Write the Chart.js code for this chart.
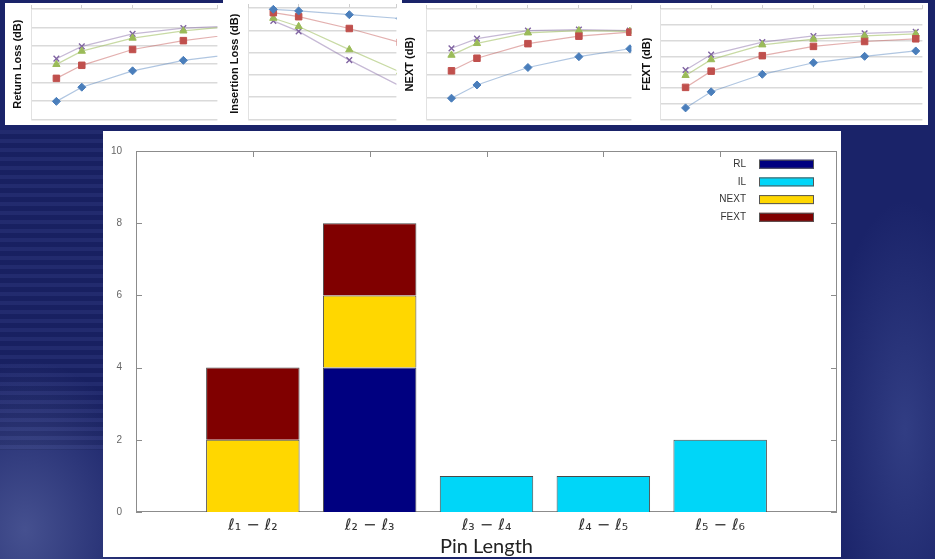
<!DOCTYPE html>
<html>
<head>
<meta charset="utf-8">
<script src="https://cdn.jsdelivr.net/npm/chart.js@4/dist/chart.umd.min.js"></script>
<style>
  html, body { margin: 0; padding: 0; }
  body {
    width: 935px; height: 559px; overflow: hidden; position: relative;
    background:
      radial-gradient(ellipse 130px 170px at 25px 530px, rgba(150,165,215,0.35), rgba(150,165,215,0) 100%),
      radial-gradient(ellipse 80px 230px at 905px 430px, rgba(110,130,200,0.28), rgba(110,130,200,0) 100%),
      #1a2369;
  }
  .streaks {
    position: absolute; left: 0; top: 130px; width: 103px; height: 320px;
    background: repeating-linear-gradient(180deg, rgba(255,255,255,0.035) 0 4px, rgba(0,0,0,0.08) 4px 9px);
  }
  .panel { position: absolute; background: #fff; }
  canvas { display: block; }
</style>
</head>
<body>
<div class="streaks"></div>
<div class="panel" style="left:5px;top:3px;width:218px;height:122px"><canvas id="rlChart" width="218" height="122"></canvas></div>
<div class="panel" style="left:223px;top:0px;width:179px;height:125px"><canvas id="ilChart" width="179" height="125"></canvas></div>
<div class="panel" style="left:402px;top:3px;width:235px;height:122px"><canvas id="nextChart" width="235" height="122"></canvas></div>
<div class="panel" style="left:633px;top:3px;width:295px;height:122px"><canvas id="fextChart" width="295" height="122"></canvas></div>
<div class="panel" style="left:103px;top:131px;width:738px;height:426px"><canvas id="pinChart" width="738" height="426"></canvas></div>

<script>
// small S-parameter plots (x = pin length step)
const pinSteps = [0.5, 1, 2, 3, 4, 5];

const rlBlue   = [0.98, 1.75, 2.64, 3.21, 3.55];
const rlRed    = [2.23, 2.94, 3.80, 4.28, 4.63];
const rlGreen  = [2.99, 3.71, 4.42, 4.81, 5.07];
const rlPurple = [3.30, 3.97, 4.65, 4.96, 5.08];

const ilBlue   = [-0.06, -0.13, -0.30, -0.47];
const ilRed    = [-0.21, -0.39, -0.92, -1.54];
const ilGreen  = [-0.46, -0.83, -1.87, -2.87];
const ilPurple = [-0.58, -1.05, -2.34, -3.50];

const nxBlue   = [0.96, 1.56, 2.35, 2.84, 3.20];
const nxRed    = [2.20, 2.77, 3.43, 3.77, 3.95];
const nxGreen  = [2.91, 3.44, 3.92, 4.02, 3.99];
const nxPurple = [3.22, 3.66, 4.02, 4.07, 4.02];

const fxBlue   = [0.73, 1.75, 2.86, 3.59, 4.00, 4.34];
const fxRed    = [2.03, 3.06, 4.04, 4.63, 4.94, 5.11];
const fxGreen  = [2.79, 3.79, 4.73, 5.09, 5.29, 5.42];
const fxPurple = [3.13, 4.11, 4.90, 5.29, 5.46, 5.56];

// main bar chart
const pinLabels  = ['ℓ₁ − ℓ₂', 'ℓ₂ − ℓ₃', 'ℓ₃ − ℓ₄', 'ℓ₄ − ℓ₅', 'ℓ₅ − ℓ₆'];
const rlCount    = [0, 4, 0, 0, 0];
const ilCount    = [0, 0, 1, 1, 2];
const nextCount  = [2, 2, 0, 0, 0];
const fextCount  = [2, 2, 0, 0, 0];
const countTicks = [0, 2, 4, 6, 8, 10];

const seriesLook = [
    { line: 'rgba(79,129,189,0.45)',  point: '#4a7ebb', style: 'rectRot',  r: 4 },
    { line: 'rgba(192,80,77,0.45)',   point: '#c0504d', style: 'rect',     r: 4.6 },
    { line: 'rgba(155,187,89,0.55)',  point: '#9bbb59', style: 'triangle', r: 4.2 },
    { line: 'rgba(128,100,162,0.45)', point: '#8064a2', style: 'crossRot', r: 4 }
];

function makePanel(id, title, series, yMin, yMax, xMax, axisW, titlePad, padTop, padBottom) {
    new Chart(document.getElementById(id), {
        type: 'line',
        data: {
            datasets: series.map((vals, k) => ({
                data: vals.map((v, i) => ({ x: pinSteps[i], y: v })),
                borderColor: seriesLook[k].line,
                borderWidth: 1.2,
                pointStyle: seriesLook[k].style,
                pointRadius: seriesLook[k].r,
                pointBackgroundColor: seriesLook[k].point,
                pointBorderColor: seriesLook[k].point,
                pointBorderWidth: k === 3 ? 1.4 : 1,
                clip: { left: 0, top: false, right: 0, bottom: 0 }
            }))
        },
        options: {
            responsive: false,
            animation: false,
            layout: { padding: { top: padTop, bottom: padBottom, left: 0, right: 0 } },
            plugins: { legend: { display: false }, tooltip: { enabled: false } },
            scales: {
                x: {
                    type: 'linear', position: 'top', min: 0, max: xMax,
                    ticks: { display: false, stepSize: 1 },
                    grid: { drawOnChartArea: false, tickLength: 4, color: '#cfcfcf' },
                    border: { display: false },
                    afterFit: s => { s.height = 4; }
                },
                y: {
                    min: yMin, max: yMax,
                    ticks: { display: false, stepSize: 1 },
                    grid: { color: '#dadada', lineWidth: 1.5, drawTicks: false },
                    border: { color: '#e2e2e2' },
                    title: {
                        display: true, text: title, color: '#111',
                        font: { family: '"Liberation Sans", Arial, sans-serif', size: 11, weight: 'bold' },
                        padding: { top: titlePad, bottom: 0 }
                    },
                    afterFit: s => { s.width = axisW; }
                }
            }
        }
    });
}

makePanel('rlChart',   'Return Loss (dB)',    [rlBlue, rlRed, rlGreen, rlPurple], 0, 6, 3.67, 26, 6.4, 2, 4);
makePanel('ilChart',   'Insertion Loss (dB)', [ilBlue, ilRed, ilGreen, ilPurple], -5, 0, 2.93, 25, 5.4, 4, 5);
makePanel('nextChart', 'NEXT (dB)',           [nxBlue, nxRed, nxGreen, nxPurple], 0, 5, 4.03, 24, 1.4, 2, 4);
makePanel('fextChart', 'FEXT (dB)',           [fxBlue, fxRed, fxGreen, fxPurple], 0, 7, 5.13, 27, 7.4, 2, 4);

// frame with inward ticks, like the original plot
const framePlugin = {
    id: 'frame',
    beforeDatasetsDraw(chart) {
        const { ctx, chartArea: a, scales: { x, y } } = chart;
        ctx.save();
        ctx.strokeStyle = '#8c8c8c';
        ctx.lineWidth = 1;
        ctx.strokeRect(a.left + 0.5, a.top + 0.5, a.width - 1, a.height - 1);
        ctx.beginPath();
        countTicks.forEach(v => {
            const py = Math.round(y.getPixelForValue(v)) + 0.5;
            ctx.moveTo(a.left, py); ctx.lineTo(a.left + 6, py);
            ctx.moveTo(a.right, py); ctx.lineTo(a.right - 6, py);
        });
        pinLabels.forEach((_, i) => {
            const px = Math.round(x.getPixelForValue(i)) + 0.5;
            ctx.moveTo(px, a.top); ctx.lineTo(px, a.top + 6);
            ctx.moveTo(px, a.bottom); ctx.lineTo(px, a.bottom - 6);
        });
        ctx.stroke();
        ctx.restore();
    }
};

// legend in the top right corner: label on the left, swatch on the right
const boxLegend = {
    id: 'boxLegend',
    afterDatasetsDraw(chart) {
        const { ctx, chartArea: a } = chart;
        ctx.save();
        ctx.font = '10px "Liberation Sans", Arial, sans-serif';
        ctx.textAlign = 'right';
        ctx.textBaseline = 'middle';
        chart.data.datasets.forEach((ds, i) => {
            const cy = a.top + 13.2 + i * 17.7;
            ctx.fillStyle = '#333';
            ctx.fillText(ds.label, a.right - 91, cy);
            ctx.fillStyle = ds.backgroundColor;
            ctx.fillRect(a.right - 78, cy - 4.5, 55, 9);
            ctx.strokeStyle = '#555';
            ctx.strokeRect(a.right - 78 + 0.5, cy - 4.5 + 0.5, 54, 8);
        });
        ctx.restore();
    }
};

const toBars = arr => arr.map((v, i) => ({ x: i, y: v })).filter(p => p.y > 0);

new Chart(document.getElementById('pinChart'), {
    type: 'bar',
    data: {
        datasets: [
            { label: 'RL',   data: toBars(rlCount),   backgroundColor: '#000080' },
            { label: 'IL',   data: toBars(ilCount),   backgroundColor: '#00d6f8' },
            { label: 'NEXT', data: toBars(nextCount), backgroundColor: '#ffd700' },
            { label: 'FEXT', data: toBars(fextCount), backgroundColor: '#800000' }
        ].map(d => Object.assign(d, {
            borderColor: '#4a4a4a', borderWidth: 1, barPercentage: 1, categoryPercentage: 0.8
        }))
    },
    options: {
        responsive: false,
        animation: false,
        layout: { padding: { top: 18, right: 4, left: 0, bottom: 0 } },
        plugins: { legend: { display: false }, tooltip: { enabled: false } },
        scales: {
            x: {
                type: 'linear', min: -1, max: 5, stacked: true, offset: false,
                afterBuildTicks: s => { s.ticks = pinLabels.map((_, i) => ({ value: i })); },
                ticks: {
                    callback: v => pinLabels[v] || '',
                    color: '#333', padding: -4, maxRotation: 0, autoSkip: false,
                    font: { family: '"DejaVu Sans", sans-serif', size: 16 }
                },
                grid: { display: false },
                border: { display: false },
                title: {
                    display: true, text: 'Pin Length', color: '#222',
                    font: { family: 'Lato, "Open Sans", sans-serif', size: 20 },
                    padding: { top: 0, bottom: -2 }
                },
                afterFit: s => { s.height = 45; }
            },
            y: {
                min: 0, max: 10, stacked: true,
                afterBuildTicks: s => { s.ticks = countTicks.map(v => ({ value: v })); },
                ticks: {
                    color: '#666', padding: 14,
                    font: { family: '"Liberation Sans", Arial, sans-serif', size: 10 }
                },
                grid: { display: false, drawTicks: false },
                border: { display: false },
                afterFit: s => { s.width = 33; }
            }
        }
    },
    plugins: [framePlugin, boxLegend]
});
</script>
</body>
</html>
